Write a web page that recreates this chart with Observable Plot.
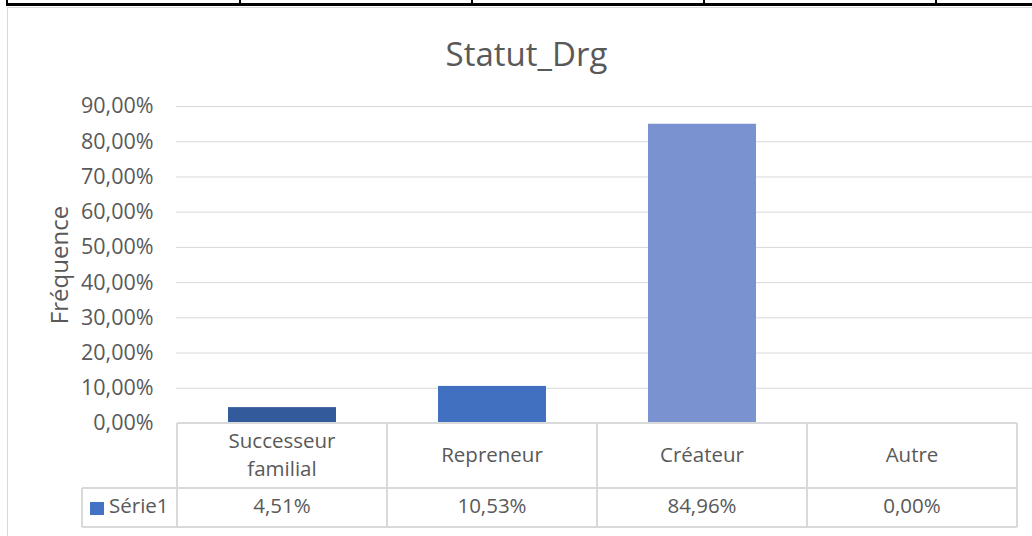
<!DOCTYPE html>
<html><head><meta charset="utf-8">
<script src="https://cdn.jsdelivr.net/npm/d3@7"></script>
<script src="https://cdn.jsdelivr.net/npm/@observablehq/plot@0.6"></script>
<style>
html,body{margin:0;padding:0;background:#fff;}
#wrap{position:relative;width:1032px;height:536px;overflow:hidden;font-family:"Open Sans",sans-serif;color:#595959;}
#wrap svg{position:absolute;left:0;top:0;}
.blk{position:absolute;background:#000;}
#area{position:absolute;left:7px;top:7px;width:1100px;height:600px;border:1px solid #d9d9d9;box-sizing:border-box;}
#title{position:absolute;left:0;top:37px;width:1053px;text-align:center;font-size:33px;line-height:33px;color:#595959;}
</style></head><body>
<div id="wrap">
  <div id="area"></div>
  <div class="blk" style="left:6px;top:3px;width:1040px;height:3px"></div>
  <div class="blk" style="left:6px;top:0;width:2px;height:6px"></div>
  <div class="blk" style="left:239px;top:0;width:2px;height:6px"></div>
  <div class="blk" style="left:471px;top:0;width:2px;height:6px"></div>
  <div class="blk" style="left:703px;top:0;width:2px;height:6px"></div>
  <div class="blk" style="left:935px;top:0;width:2px;height:6px"></div>
  <div id="title">Statut_Drg</div>
</div>
<script>
// ---- data ----
const categories = ["Successeur familial", "Repreneur", "Créateur", "Autre"];
const categoryLines = [["Successeur", "familial"], ["Repreneur"], ["Créateur"], ["Autre"]];
const values = [0.0451, 0.1053, 0.8496, 0.0];
const seriesName = "Série1";
const yTicks = [0, 0.1, 0.2, 0.3, 0.4, 0.5, 0.6, 0.7, 0.8, 0.9];
const barColors = ["#335A9B", "#4270C0", "#7A92D0", "#A9BAE2"];
const legendColor = "#4472C4";
const yLabel = "Fréquence";

const fmt = d => (d * 100).toFixed(2).replace(".", ",") + "%";
const data = categories.map((c, i) => ({cat: c, value: values[i], color: barColors[i]}));

const FONT = '"Open Sans", sans-serif';
const TXT = "#595959";
const GRID = "#d9d9d9";
const FS = 20.5;

const chart = Plot.plot({
  width: 1032, height: 536,
  marginTop: 106, marginBottom: 113, marginLeft: 176, marginRight: 0,
  style: {fontFamily: FONT, fontSize: FS + "px", color: TXT, background: "transparent", overflow: "visible"},
  x: {domain: categories, range: [176, 1017], paddingInner: 0.486, paddingOuter: 0.243, axis: null},
  y: {domain: [0, 0.9], axis: null},
  color: {type: "identity"},
  marks: [
    Plot.ruleY(yTicks.filter(d => d > 0), {stroke: GRID, strokeWidth: 1}),
    Plot.barY(data, {x: "cat", y: "value", fill: "color"}),
    Plot.text(yTicks, {y: d => d, text: fmt, frameAnchor: "left", textAnchor: "end", dx: -23, fontSize: 21.5, fill: TXT}),
    Plot.text([yLabel], {frameAnchor: "left", textAnchor: "middle", rotate: -90, dx: -116, fontSize: 24, fill: TXT})
  ]
});
document.getElementById("wrap").appendChild(chart);

// ---- data table below the plot, positioned from Plot's own scales ----
const xs = chart.scale("x"), ys = chart.scale("y");
const step = xs.step, bw = xs.bandwidth;
const centers = categories.map(c => xs.apply(c) + bw / 2);
const lefts = centers.map(c => c - step / 2);
const rights = centers.map(c => c + step / 2);
const y0 = ys.apply(0);
const r1 = y0 + 65, r2 = y0 + 104;
const legLeft = lefts[0] - 95;
const tableRight = rights[rights.length - 1];

const svg = d3.select(chart);
const g = svg.append("g").attr("fill", "none").attr("stroke", GRID).attr("stroke-width", 2);
g.append("line").attr("x1", lefts[0]).attr("x2", tableRight).attr("y1", y0).attr("y2", y0);
g.append("line").attr("x1", legLeft).attr("x2", tableRight).attr("y1", r1).attr("y2", r1);
g.append("line").attr("x1", legLeft).attr("x2", tableRight).attr("y1", r2).attr("y2", r2);
g.append("line").attr("x1", legLeft).attr("x2", legLeft).attr("y1", r1).attr("y2", r2);
[lefts[0], ...rights].forEach(x => g.append("line").attr("x1", x).attr("x2", x).attr("y1", y0).attr("y2", r2));

const t = svg.append("g").attr("fill", TXT).attr("font-family", FONT).attr("font-size", FS).attr("text-anchor", "middle");
categoryLines.forEach((lines, i) => {
  const base = lines.length === 2 ? [y0 + 25, y0 + 53] : [y0 + 39];
  lines.forEach((ln, j) => t.append("text").attr("x", centers[i]).attr("y", base[j]).text(ln));
  t.append("text").attr("x", centers[i]).attr("y", r1 + 25).text(fmt(values[i]));
});
svg.append("rect").attr("x", legLeft + 8).attr("y", r1 + 14).attr("width", 14).attr("height", 13).attr("fill", legendColor);
svg.append("text").attr("x", legLeft + 27).attr("y", r1 + 25).attr("text-anchor", "start")
  .attr("fill", TXT).attr("font-family", FONT).attr("font-size", FS).text(seriesName);
</script>
</body></html>
